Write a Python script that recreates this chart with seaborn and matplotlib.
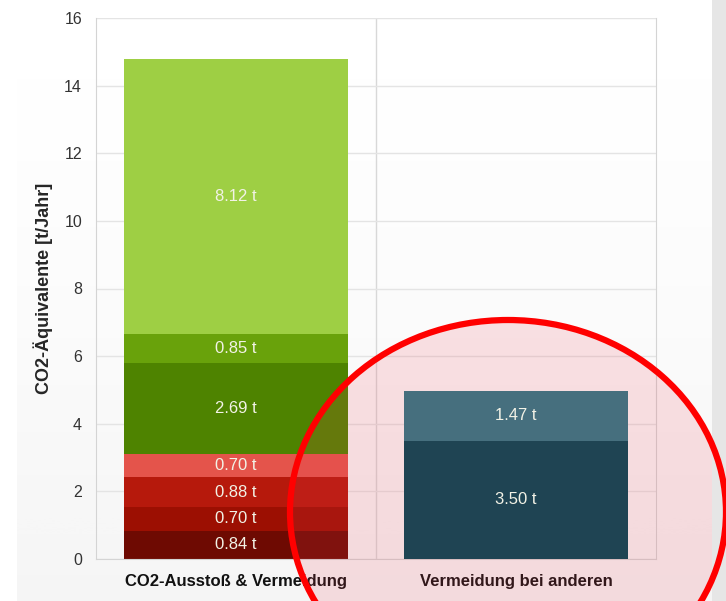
import numpy as np
import pandas as pd
import seaborn as sea
import matplotlib.pyplot as plt
from matplotlib.patches import Ellipse, Rectangle

sea.set_style("white")
plt.rcParams["font.family"] = ["Liberation Sans", "DejaVu Sans"]

# data
categories = ["CO2-Ausstoß & Vermeidung", "Vermeidung bei anderen"]
left_values = [0.84, 0.70, 0.88, 0.70, 2.69, 0.85, 8.12]
left_colors = ["#6e0a02", "#9c0f02", "#b6190c", "#e4544b",
               "#4e8300", "#69a20b", "#9ecf44"]
right_values = [3.50, 1.47]
right_colors = ["#1f4453", "#466f7e"]

rows = []
for val, col in zip(left_values, left_colors):
    rows.append((categories[0], val, col))
for val, col in zip(right_values, right_colors):
    rows.append((categories[1], val, col))
df = pd.DataFrame(rows, columns=["cat", "value", "color"])
df["bottom"] = df.groupby("cat")["value"].cumsum() - df["value"]

fig = plt.figure(figsize=(7.26, 6.01), dpi=100, facecolor="white")

# soft grey gradient behind everything
bg = fig.add_axes([17/726, 0, 695/726, 1], zorder=-10)
grad = np.linspace(0, 1, 256).reshape(-1, 1) ** 1.5
bg.imshow(grad, aspect="auto", cmap="Greys", vmin=0, vmax=12,
    extent=[0, 1, 0, 1], origin="upper")
bg.axis("off")
fig.add_artist(Rectangle((712/726, 0), 14/726, 1, transform=fig.transFigure,
    facecolor="#e6e6e6", edgecolor="none"))

ax = fig.add_axes([96/726, 42/601, 560/726, 541/601])
ax.patch.set_alpha(0)

for _, r in df.iterrows():
    on_right = r["cat"] == categories[1]
    z = 4 if on_right else 2
    sea.barplot(data=pd.DataFrame({"cat": [r["cat"]], "value": [r["value"]]}),
        x="cat", y="value", order=categories, color=r["color"],
        bottom=r["bottom"], width=0.8, saturation=1, linewidth=0,
        zorder=z, ax=ax)
    xpos = categories.index(r["cat"])
    ax.text(xpos, r["bottom"] + r["value"]/2, f"{r['value']:.2f} t",
        ha="center", va="center", color="#f2f2e6", fontsize=12, zorder=5)

ax.set_ylim(0, 16)
ax.set_xlim(-0.5, 1.5)
ax.yaxis.set(major_locator=plt.MultipleLocator(2))
ax.grid(axis="y", color="#e4e4e4", linewidth=1)
ax.axvline(0.5, color="#d8d8d8", linewidth=1, zorder=0.5)
ax.set_axisbelow(True)
for side in ["left", "bottom", "right"]:
    ax.spines[side].set_color("#d4d4d4")
ax.spines["top"].set_visible(False)
ax.tick_params(axis="y", length=0, pad=10, labelsize=11.5, labelcolor="#333333")
ax.tick_params(axis="x", length=0, pad=11)
for lab in ax.get_xticklabels():
    lab.set_fontweight("bold")
    lab.set_fontsize(12)
    lab.set_color("#111111")
ax.set_xlabel("")
ax.set_ylabel("CO2-Äquivalente [t/Jahr]", fontsize=13, fontweight="bold",
    labelpad=8)

# highlight ellipse: fill sits over the left bar but under the right one
ell_center = (508/726, 1 - 512/601)
ell_w, ell_h = 436/726, 384/601
ax.add_patch(Ellipse(ell_center, ell_w, ell_h, transform=fig.transFigure,
    facecolor=(0.93, 0.25, 0.33), alpha=0.15, edgecolor="none",
    zorder=3, clip_on=False))
fig.add_artist(Ellipse(ell_center, ell_w, ell_h, transform=fig.transFigure,
    facecolor="none", edgecolor="#ff0000", linewidth=4.5))

plt.savefig("out.png", dpi=100)
plt.close()
